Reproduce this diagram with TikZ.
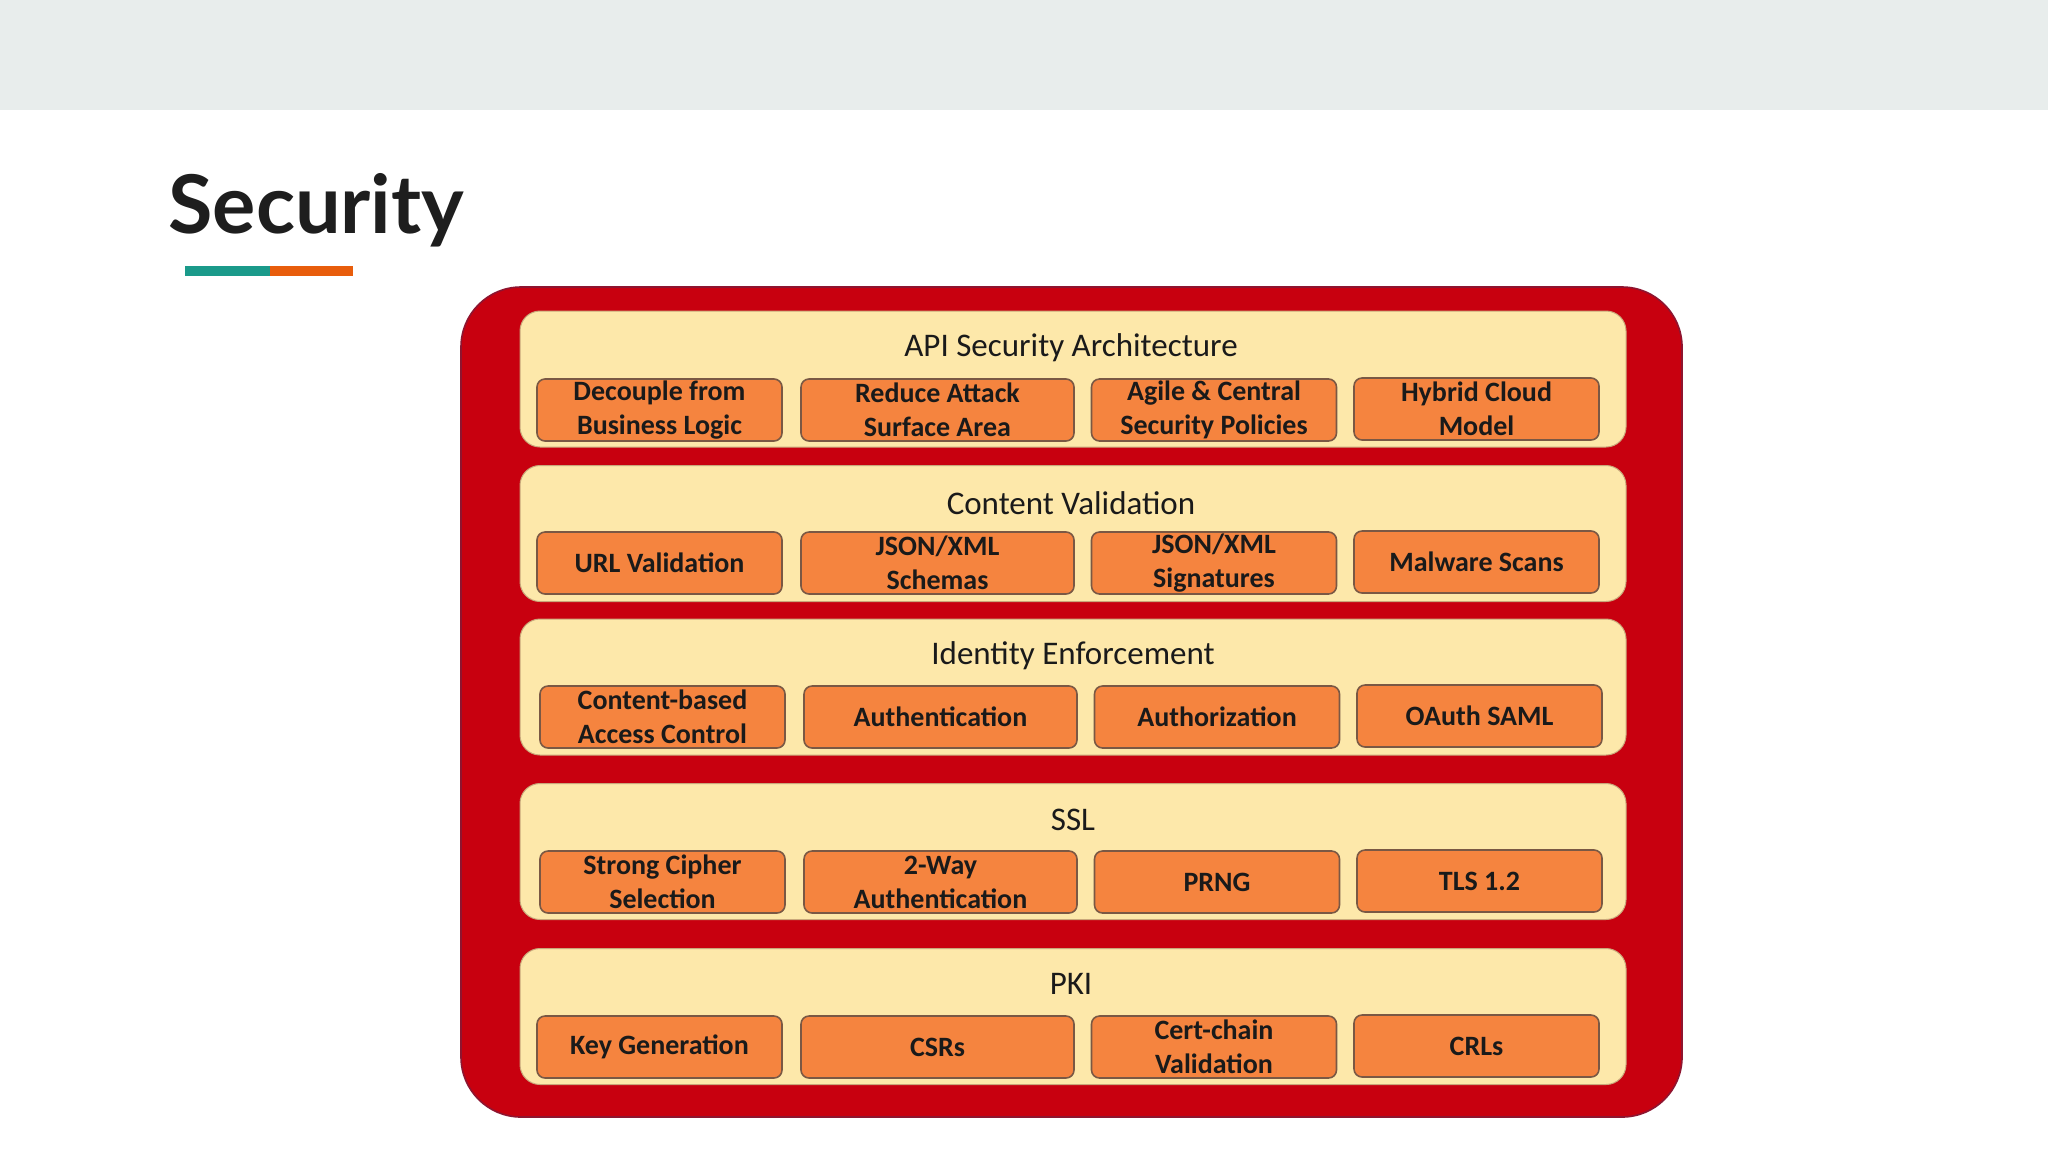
\documentclass[tikz,border=0pt]{standalone}
\usepackage{fontspec}
\setmainfont{Carlito}
\newfontfamily\titlefont{Lato}
\definecolor{band}{HTML}{E8EDEC}
\definecolor{titlecol}{HTML}{1E1E1E}
\definecolor{ulteal}{HTML}{1A9A8A}
\definecolor{ulorange}{HTML}{E85D0C}
\definecolor{framered}{HTML}{C8000F}
\definecolor{frameline}{HTML}{8E1530}
\definecolor{cream}{HTML}{FDE8AA}
\definecolor{panelline}{HTML}{C9A77A}
\definecolor{boxorange}{HTML}{F5843F}
\definecolor{boxline}{HTML}{7A5844}
\definecolor{textdark}{HTML}{1A1A1A}
\begin{document}
\begin{tikzpicture}[x=0.5pt,y=-0.5pt,
  frame/.style={rectangle, rounded corners=30pt, fill=framered, draw=frameline, line width=0.8pt, minimum width=610.5pt, minimum height=415pt, inner sep=0pt},
  layer/.style={rectangle, rounded corners=10pt, fill=cream, draw=panelline, line width=0.5pt, minimum width=553pt, minimum height=68pt, inner sep=0pt},
  ltitle/.style={font=\fontsize{16.5}{19}\selectfont, text=textdark, inner sep=0pt},
  item/.style={rectangle, rounded corners=4pt, fill=boxorange, draw=boxline, line width=0.8pt, minimum height=31pt, inner sep=0pt, align=center, font=\bfseries\fontsize{14}{17}\selectfont, text=textdark},
  wA/.style={item, minimum width=122.5pt},
  wB/.style={item, minimum width=136.5pt}]
\useasboundingbox (0,0) rectangle (2048,1152);
\fill[white] (0,0) rectangle (2048,1152);
\fill[band] (0,0) rectangle (2048,110);
\node[anchor=base west, font=\titlefont\bfseries\fontsize{40.5}{46}\selectfont, text=titlecol, inner sep=0pt] (title) at (168,233) {Security};
\fill[ulteal] (185,266) rectangle (270,276);
\fill[ulorange] (270,266) rectangle (353,276);
% frame
\node[frame] (frame) at (1071.5,702) {};
% layers
\node[layer] (L1) at (1073,379) {};
\node[layer] (L2) at (1073,533.5) {};
\node[layer] (L3) at (1073,687) {};
\node[layer] (L4) at (1073,851.5) {};
\node[layer] (L5) at (1073,1016.5) {};
\node[ltitle] (T1) at (1071,348) {API Security Architecture};
\node[ltitle] (T2) at (1071,503) {Content Validation};
\node[ltitle] (T3) at (1073,656) {Identity Enforcement};
\node[ltitle] (T4) at (1073,820) {SSL};
\node[ltitle] (T5) at (1071,984) {PKI};
% row 1
\node[wA] (a1) at (659.5,410) {Decouple from\\Business Logic};
\node[wB] (a2) at (937.5,410) {Reduce Attack\\Surface Area};
\node[wA] (a3) at (1214,410) {Agile \& Central\\Security Policies};
\node[wA] (a4) at (1476.5,409) {Hybrid Cloud\\Model};
% row 2
\node[wA] (b1) at (659.5,563) {URL Validation};
\node[wB] (b2) at (937.5,563) {JSON/XML\\Schemas};
\node[wA] (b3) at (1214,563) {JSON/XML\\Signatures};
\node[wA] (b4) at (1476.5,562) {Malware Scans};
% row 3
\node[wA] (c1) at (662.5,717) {Content-based\\Access Control};
\node[wB] (c2) at (940.5,717) {Authentication};
\node[wA] (c3) at (1217,717) {Authorization};
\node[wA] (c4) at (1479.5,716) {OAuth SAML};
% row 4
\node[wA] (d1) at (662.5,882) {Strong Cipher\\Selection};
\node[wB] (d2) at (940.5,882) {2-Way\\Authentication};
\node[wA] (d3) at (1217,882) {PRNG};
\node[wA] (d4) at (1479.5,881) {TLS 1.2};
% row 5
\node[wA] (e1) at (659.5,1047) {Key Generation};
\node[wB] (e2) at (937.5,1047) {CSRs};
\node[wA] (e3) at (1214,1047) {Cert-chain\\Validation};
\node[wA] (e4) at (1476.5,1046) {CRLs};
\end{tikzpicture}
\end{document}
